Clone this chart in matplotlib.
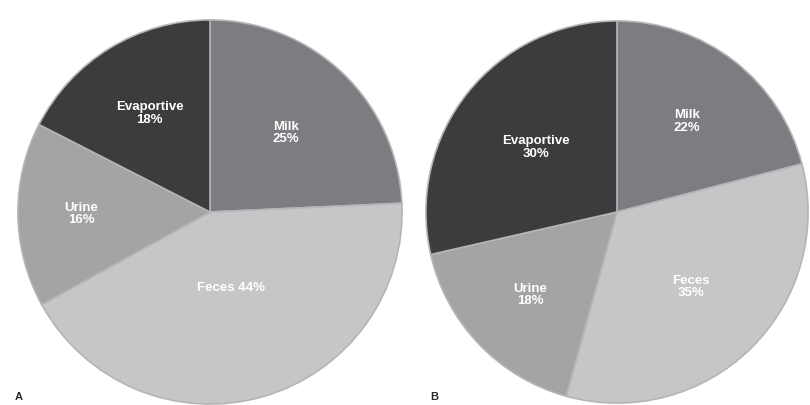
import numpy as np
import matplotlib
matplotlib.use("Agg")
import matplotlib.pyplot as plt

plt.rcParams['font.family'] = ['Liberation Sans', 'DejaVu Sans']

# water loss routes, clockwise from 12 o'clock
categories = ['Milk', 'Feces', 'Urine', 'Evaportive']
values_a = [25, 44, 16, 18]
values_b = [22, 35, 18, 30]
colors = ['#7c7d80', '#c4c6c8', '#a3a4a6', '#3c3c3e']

# label text per panel
labels_a = ['Milk\n25%', 'Feces 44%', 'Urine\n16%', 'Evaportive\n18%']
labels_b = ['Milk\n22%', 'Feces\n35%', 'Urine\n18%', 'Evaportive\n30%']
label_r_a = [0.57, 0.41, 0.67, 0.60]
label_r_b = [0.60, 0.55, 0.63, 0.54]

W, H = 810, 405
fig = plt.figure(figsize=(W / 100, H / 100), dpi=100)


def draw_pie(cx, cy, r, values, labels, label_r):
    ax = fig.add_axes([(cx - r) / W, (H - cy - r) / H, 2 * r / W, 2 * r / H])
    wedges, _ = ax.pie(values, colors=colors, startangle=90, counterclock=False,
                       radius=1.0,
                       wedgeprops=dict(edgecolor='#b4b5b7', linewidth=1.2))
    for w, lab, lr in zip(wedges, labels, label_r):
        mid = np.deg2rad((w.theta1 + w.theta2) / 2)
        ax.text(lr * np.cos(mid), lr * np.sin(mid), lab, ha='center',
                va='center', color='white', fontsize=9.5, fontweight='bold',
                linespacing=1.05)
    ax.set_xlim(-1.01, 1.01)
    ax.set_ylim(-1.01, 1.01)
    ax.set_aspect('equal')
    ax.axis('off')
    return ax


draw_pie(210, 212, 194, values_a, labels_a, label_r_a)
draw_pie(617, 212, 193, values_b, labels_b, label_r_b)

fig.text(19 / W, 1 - 397 / H, 'A', ha='center', va='center', fontsize=8,
         fontweight='bold', color='#2a2a2a')
fig.text(434 / W, 1 - 397 / H, 'B', ha='center', va='center', fontsize=8,
         fontweight='bold', color='#2a2a2a')

fig.savefig('out.png', dpi=100, facecolor='white')
